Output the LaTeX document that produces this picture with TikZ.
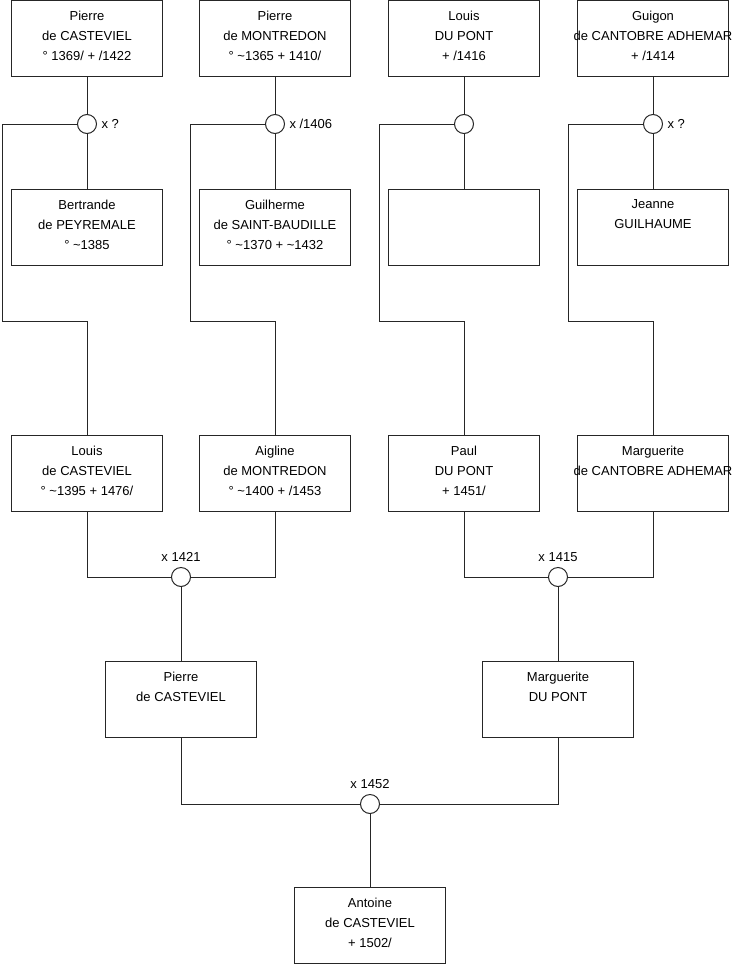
\documentclass[tikz,border=0pt]{standalone}
\usepackage{fontspec}
\setmainfont{Liberation Sans}
\begin{document}
\begin{tikzpicture}[x=1pt,y=-1pt,
  line width=1pt,
  personbox/.style={draw=black!85, line width=1pt, minimum width=151pt, minimum height=76pt, inner sep=0pt, fill=white},
  txt/.style={font=\fontsize{13}{20}\selectfont, align=center, inner sep=0pt, anchor=north, text=black},
  ring/.style={circle, draw=black!85, line width=1pt, minimum size=19pt, inner sep=0pt, fill=white},
  lbl/.style={font=\fontsize{13}{16}\selectfont, inner sep=0pt, text=black},
  link/.style={draw=black!85, line width=1pt}]
\useasboundingbox (0,0) rectangle (740,975);
% boxes
\node[personbox] (r1a) at (87,38.5) {};
\node[personbox] (r1b) at (275,38.5) {};
\node[personbox] (r1c) at (464,38.5) {};
\node[personbox] (r1d) at (653,38.5) {};
\node[personbox] (r2a) at (87,227) {};
\node[personbox] (r2b) at (275,227) {};
\node[personbox] (r2c) at (464,227) {};
\node[personbox] (r2d) at (653,227) {};
\node[personbox] (r3a) at (87,473) {};
\node[personbox] (r3b) at (275,473) {};
\node[personbox] (r3c) at (464,473) {};
\node[personbox] (r3d) at (653,473) {};
\node[personbox] (r4a) at (181,699.5) {};
\node[personbox] (r4b) at (558,699.5) {};
\node[personbox] (r5) at (370,925.5) {};
% texts
\node[txt] (t1a) at ([yshift=-10.7pt]r1a.north) {Pierre\\de CASTEVIEL\\° 1369/ + /1422};
\node[txt] (t1b) at ([yshift=-10.7pt]r1b.north) {Pierre\\de MONTREDON\\° \textasciitilde1365 + 1410/};
\node[txt] (t1c) at ([yshift=-10.7pt]r1c.north) {Louis\\DU PONT\\+ /1416};
\node[txt] (t1d) at ([yshift=-10.7pt]r1d.north) {Guigon\\de CANTOBRE ADHEMAR\\+ /1414};
\node[txt] (t2a) at ([yshift=-10.7pt]r2a.north) {Bertrande\\de PEYREMALE\\° \textasciitilde1385};
\node[txt] (t2b) at ([yshift=-10.7pt]r2b.north) {Guilherme\\de SAINT-BAUDILLE\\° \textasciitilde1370 + \textasciitilde1432};
\node[txt] (t2d) at ([yshift=-10.7pt]r2d.north) {Jeanne\\GUILHAUME};
\node[txt] (t3a) at ([yshift=-10.7pt]r3a.north) {Louis\\de CASTEVIEL\\° \textasciitilde1395 + 1476/};
\node[txt] (t3b) at ([yshift=-10.7pt]r3b.north) {Aigline\\de MONTREDON\\° \textasciitilde1400 + /1453};
\node[txt] (t3c) at ([yshift=-10.7pt]r3c.north) {Paul\\DU PONT\\+ 1451/};
\node[txt] (t3d) at ([yshift=-10.7pt]r3d.north) {Marguerite\\de CANTOBRE ADHEMAR};
\node[txt] (t4a) at ([yshift=-10.7pt]r4a.north) {Pierre\\de CASTEVIEL};
\node[txt] (t4b) at ([yshift=-10.7pt]r4b.north) {Marguerite\\DU PONT};
\node[txt] (t5) at ([yshift=-10.7pt]r5.north) {Antoine\\de CASTEVIEL\\+ 1502/};
% union circles
\node[ring] (m1a) at (87,124) {};
\node[ring] (m1b) at (275,124) {};
\node[ring] (m1c) at (464,124) {};
\node[ring] (m1d) at (653,124) {};
\node[ring] (m3a) at (181,577) {};
\node[ring] (m3b) at (558,577) {};
\node[ring] (m5) at (370,804) {};
% union labels
\node[lbl, anchor=west] (l1a) at ([xshift=4pt]m1a.east) {x ?};
\node[lbl, anchor=west] (l1b) at ([xshift=4pt]m1b.east) {x /1406};
\node[lbl, anchor=west] (l1d) at ([xshift=4pt]m1d.east) {x ?};
\node[lbl, anchor=south] (l3a) at ([yshift=5pt]m3a.north) {x 1421};
\node[lbl, anchor=south] (l3b) at ([yshift=5pt]m3b.north) {x 1415};
\node[lbl, anchor=south] (l5) at ([yshift=5pt]m5.north) {x 1452};
% corner coordinates
\coordinate (k1) at (2,321);
\coordinate (k2) at (190,321);
\coordinate (k3) at (379,321);
\coordinate (k4) at (568,321);
% top generation
\foreach \c in {a,b,c,d} {
  \draw[link] (r1\c) -- (m1\c);
  \draw[link] (m1\c) -- (r2\c);
}
\draw[link] (m1a.west) -| (k1) -| (r3a.north);
\draw[link] (m1b.west) -| (k2) -| (r3b.north);
\draw[link] (m1c.west) -| (k3) -| (r3c.north);
\draw[link] (m1d.west) -| (k4) -| (r3d.north);
% second generation
\draw[link] (r3a.south) |- (m3a.west);
\draw[link] (r3b.south) |- (m3a.east);
\draw[link] (m3a) -- (r4a);
\draw[link] (r3c.south) |- (m3b.west);
\draw[link] (r3d.south) |- (m3b.east);
\draw[link] (m3b) -- (r4b);
% third generation
\draw[link] (r4a.south) |- (m5.west);
\draw[link] (r4b.south) |- (m5.east);
\draw[link] (m5) -- (r5);
\end{tikzpicture}
\end{document}
